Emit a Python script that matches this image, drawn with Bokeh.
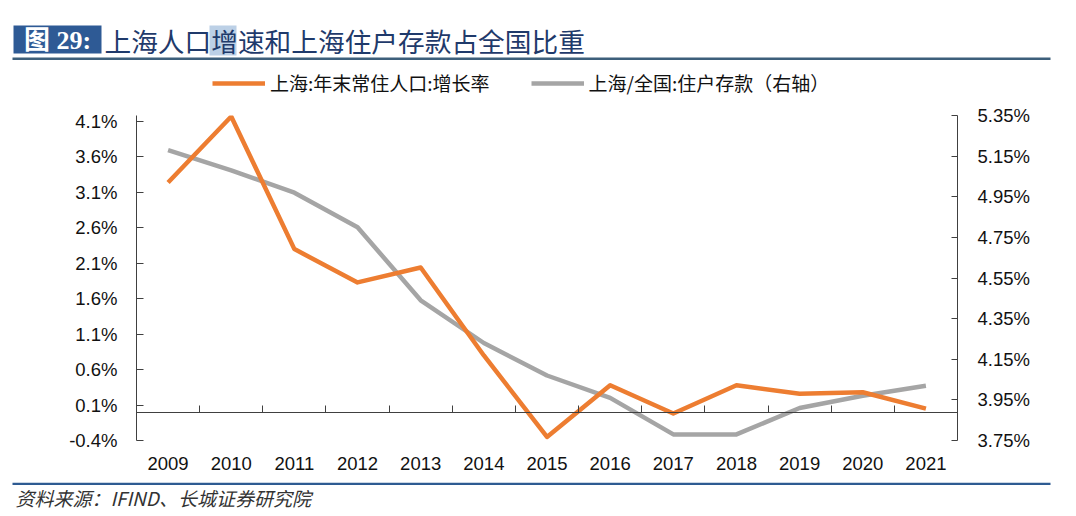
from bokeh.plotting import figure
from bokeh.layouts import column
from bokeh.models import (Range1d, LinearAxis, FixedTicker, PrintfTickFormatter, Label,
                          BoxAnnotation, Legend, LegendItem, ColumnDataSource)
from bokeh.embed import file_html
from bokeh.resources import INLINE

# ---- data ----
years = ["2009", "2010", "2011", "2012", "2013", "2014", "2015",
         "2016", "2017", "2018", "2019", "2020", "2021"]
pop_growth = [3.24, 4.17, 2.30, 1.83, 2.04, 0.80, -0.35, 0.38, -0.02, 0.38, 0.26, 0.28, 0.05]
deposit_share = [5.18, 5.08, 4.97, 4.80, 4.44, 4.23, 4.07, 3.96, 3.78, 3.78, 3.91, 3.97, 4.02]
left_ticks = [-0.4, 0.1, 0.6, 1.1, 1.6, 2.1, 2.6, 3.1, 3.6, 4.1]
right_ticks = [3.75, 3.95, 4.15, 4.35, 4.55, 4.75, 4.95, 5.15, 5.35]
name_pop = "上海:年末常住人口:增长率"
name_dep = "上海/全国:住户存款（右轴）"
title_tag = "图 29:"
title_text = "上海人口增速和上海住户存款占全国比重"
source_text = "资料来源：IFIND、长城证券研究院"

ORANGE = "#ED7D31"
GRAY = "#A5A5A5"
AXIS = "#404040"
LABEL_FONT = "Liberation Sans"
CJK = "Noto Sans CJK SC"
W = 1060
TOP_H, MAIN_H, BOT_H = 96, 386, 34


def blank_fig(h):
    f = figure(width=W, height=h, output_backend="svg", toolbar_location=None,
               x_range=Range1d(0, W), y_range=Range1d(h, 0),
               x_axis_type=None, y_axis_type=None,
               min_border=0, min_border_left=0, min_border_right=0,
               min_border_top=0, min_border_bottom=0, frame_align=False,
               background_fill_color="white", border_fill_color="white")
    f.grid.visible = False
    f.outline_line_color = None
    return f


# ---------- main chart ----------
xs = list(range(len(years)))
src = ColumnDataSource(dict(x=xs, year=years, pop=pop_growth, dep=deposit_share))

p = figure(width=W, height=MAIN_H, output_backend="svg", toolbar_location=None,
           x_range=Range1d(-0.5, len(years) - 0.5), y_range=Range1d(-0.4, 4.185),
           min_border_left=136, min_border_right=103, min_border_top=19,
           min_border_bottom=42, frame_align=False, background_fill_color="white",
           border_fill_color="white")
p.grid.visible = False
p.outline_line_color = None
p.extra_y_ranges = {"right": Range1d(3.75, 5.35)}

ya = p.yaxis[0]
ya.ticker = FixedTicker(ticks=left_ticks)
ya.formatter = PrintfTickFormatter(format="%.1f%%")
ya.major_tick_in = 7
ya.major_tick_out = 0
ya.minor_tick_line_color = None
ya.axis_line_color = AXIS
ya.major_tick_line_color = AXIS
ya.major_label_standoff = 19
ya.major_label_text_font = LABEL_FONT
ya.major_label_text_font_size = "18.5px"
ya.major_label_text_color = "#111111"

ra = LinearAxis(y_range_name="right", ticker=FixedTicker(ticks=right_ticks),
                formatter=PrintfTickFormatter(format="%.2f%%"))
ra.major_tick_in = 6
ra.major_tick_out = 0
ra.minor_tick_line_color = None
ra.axis_line_color = AXIS
ra.major_tick_line_color = AXIS
ra.major_label_standoff = 20
ra.major_label_text_font = LABEL_FONT
ra.major_label_text_font_size = "18.5px"
ra.major_label_text_color = "#111111"
p.add_layout(ra, "right")

xa = p.xaxis[0]
xa.ticker = FixedTicker(ticks=xs)
xa.major_label_overrides = {i: y for i, y in zip(xs, years)}
xa.axis_line_color = None
xa.major_tick_line_color = None
xa.minor_tick_line_color = None
xa.major_label_standoff = 10
xa.major_label_text_font = LABEL_FONT
xa.major_label_text_font_size = "18.5px"
xa.major_label_text_color = "#111111"

# zero line with category-boundary tick marks
boundaries = [i + 0.5 for i in xs[:-1]]
za = LinearAxis(fixed_location=0, ticker=FixedTicker(ticks=boundaries))
za.major_label_overrides = {b: "" for b in boundaries}
za.major_label_standoff = 0
za.major_tick_in = 7
za.major_tick_out = 0
za.minor_tick_line_color = None
za.axis_line_color = AXIS
za.major_tick_line_color = AXIS
p.add_layout(za, "below")

r_dep = p.line("x", "dep", source=src, y_range_name="right", line_color=GRAY,
               line_width=4.5, line_join="round")
r_pop = p.line("x", "pop", source=src, line_color=ORANGE, line_width=4.5,
               line_join="round")

# ---------- header: title, rule, legend ----------
top = blank_fig(TOP_H)
top.add_layout(BoxAnnotation(left=13, right=101, top=25, bottom=53,
                             fill_color="#2E5A95", fill_alpha=1, line_color=None))
top.add_layout(BoxAnnotation(left=209, right=236, top=25, bottom=55,
                             fill_color="#BCD0E6", fill_alpha=1, line_color=None))
top.add_layout(Label(x=57, y=39.5, text=title_tag, text_align="center",
                     text_baseline="middle",
                     text_font="Liberation Serif, Noto Sans CJK SC",
                     text_font_style="bold", text_font_size="26px",
                     text_color="white"))
top.add_layout(Label(x=104, y=40, text=title_text, text_baseline="middle",
                     text_font=CJK, text_font_size="26.7px", text_color="#1F3A6B"))
top.add_layout(BoxAnnotation(left=12, right=1050, top=57, bottom=59.5,
                             fill_color="#3D5F7B", fill_alpha=1, line_color=None))

# legend swatches share the main series' styles (no visible data of their own)
nan = float("nan")
l_pop = top.line(x=[nan], y=[nan], line_color=ORANGE, line_width=4.5)
l_dep = top.line(x=[nan], y=[nan], line_color=GRAY, line_width=4.5)
legend = Legend(items=[LegendItem(label=name_pop, renderers=[l_pop]),
                       LegendItem(label=name_dep, renderers=[l_dep])],
                location=(212, 0), orientation="horizontal",
                glyph_width=53, glyph_height=20, label_height=20,
                label_standoff=5, spacing=41, padding=0, margin=0,
                border_line_color=None, background_fill_alpha=0,
                label_text_font=CJK, label_text_font_size="19px",
                label_text_color="#111111", label_text_baseline="middle")
top.add_layout(legend, "center")

# ---------- footer: rule and source ----------
bot = blank_fig(BOT_H)
bot.add_layout(BoxAnnotation(left=12, right=1050, top=0, bottom=2.6,
                             fill_color="#2E5B92", fill_alpha=1, line_color=None))
bot.add_layout(Label(x=15, y=15, text=source_text, text_baseline="middle",
                     text_font=CJK, text_font_style="italic", text_font_size="19px",
                     text_color="#333333"))

layout = column(top, p, bot, spacing=0)
open("out.html", "w").write(file_html(layout, INLINE))
